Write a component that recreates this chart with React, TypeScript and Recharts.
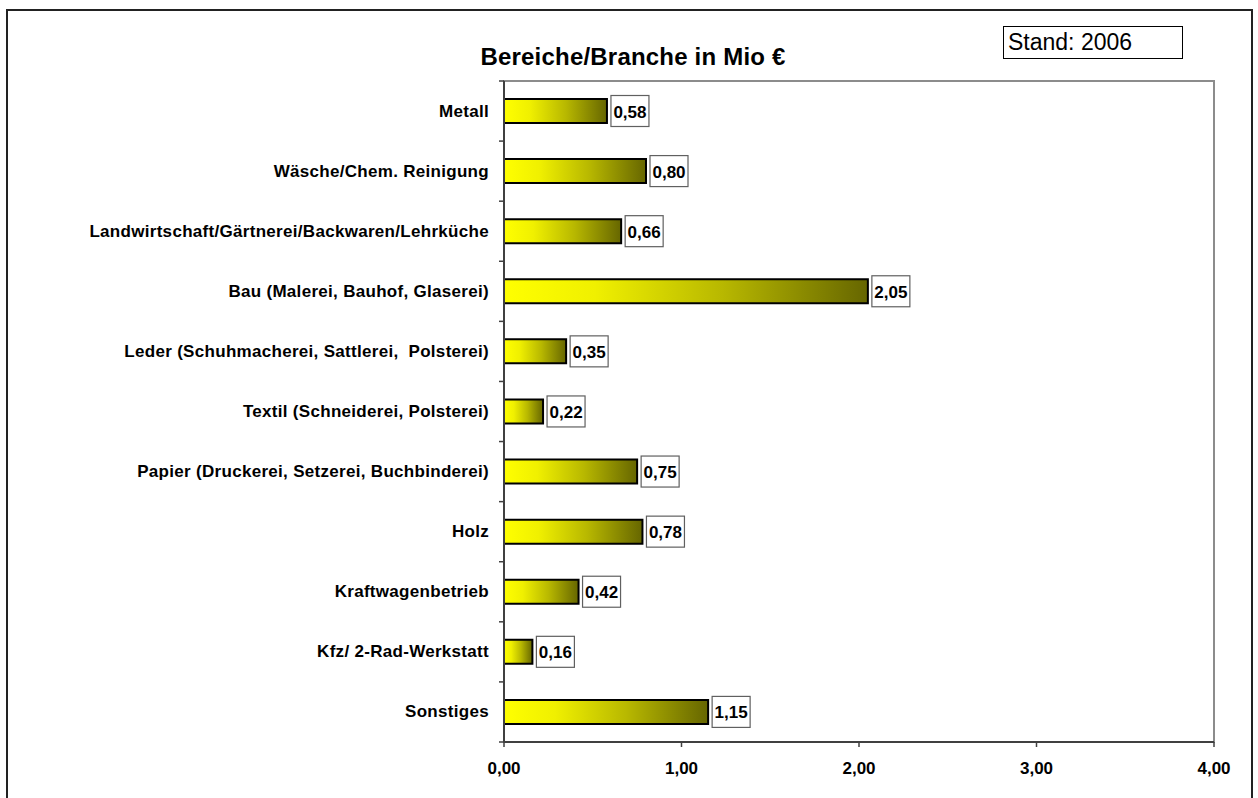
import React from "react";
import { BarChart, Bar, XAxis, YAxis, LabelList, ReferenceArea } from "recharts";

// Werte (Mio €)
const categories = [
  "Metall",
  "Wäsche/Chem. Reinigung",
  "Landwirtschaft/Gärtnerei/Backwaren/Lehrküche",
  "Bau (Malerei, Bauhof, Glaserei)",
  "Leder (Schuhmacherei, Sattlerei,  Polsterei)",
  "Textil (Schneiderei, Polsterei)",
  "Papier (Druckerei, Setzerei, Buchbinderei)",
  "Holz",
  "Kraftwagenbetrieb",
  "Kfz/ 2-Rad-Werkstatt",
  "Sonstiges",
];
const values = [0.58, 0.8, 0.66, 2.05, 0.35, 0.22, 0.75, 0.78, 0.42, 0.16, 1.15];
const xTicks = [0, 1, 2, 3, 4];
const title = "Bereiche/Branche in Mio €";
const stand = "Stand: 2006";

const data = categories.map((name, i) => ({ name, value: values[i] }));

const FONT = '"Liberation Sans", Arial, sans-serif';
const W = 1258;
const H = 798;
const MARGIN = { top: 81, right: 44, bottom: 0, left: 0 };
const Y_AXIS_W = 504;
const X_AXIS_H = 56;
const BAND = (H - MARGIN.top - MARGIN.bottom - X_AXIS_H) / categories.length;
const AXIS_COLOR = "#404040";

const fmt = (v: number) => v.toFixed(2).replace(".", ",");

const CategoryTick = (props: any) => {
  const { x, y, payload, index } = props;
  const axisX = x + 15;
  return (
    <g>
      <line x1={axisX - 5} x2={axisX} y1={y - BAND / 2} y2={y - BAND / 2} stroke={AXIS_COLOR} strokeWidth={1.5} />
      {index === categories.length - 1 && (
        <line x1={axisX - 5} x2={axisX} y1={y + BAND / 2} y2={y + BAND / 2} stroke={AXIS_COLOR} strokeWidth={1.5} />
      )}
      <text
        x={x}
        y={y}
        textAnchor="end"
        dominantBaseline="central"
        fontFamily={FONT}
        fontSize={17}
        fontWeight="bold"
        letterSpacing={0.3}
        fill="#000"
        style={{ whiteSpace: "pre" }}
      >
        {payload.value}
      </text>
    </g>
  );
};

const ValueLabel = (props: any) => {
  const { x, y, width, height, value } = props;
  const bx = x + width + 4;
  const cy = y + height / 2;
  return (
    <g>
      <rect x={bx} y={cy - 15.5} width={38} height={31} fill="#fff" stroke="#606060" strokeWidth={1.2} />
      <text
        x={bx + 19}
        y={cy + 1}
        textAnchor="middle"
        dominantBaseline="central"
        fontFamily={FONT}
        fontSize={17}
        fontWeight="bold"
        fill="#000"
      >
        {fmt(Number(value))}
      </text>
    </g>
  );
};

export default function App() {
  return (
    <div style={{ position: "absolute", left: 0, top: 0, width: W, height: H, background: "#fff", fontFamily: FONT, overflow: "hidden" }}>
      <div
        style={{
          position: "absolute",
          left: 0,
          top: 45,
          width: 1266,
          textAlign: "center",
          fontSize: 24,
          lineHeight: "24px",
          fontWeight: "bold",
          letterSpacing: 0.2,
        }}
      >
        {title}
      </div>
      <div
        style={{
          position: "absolute",
          left: 1003,
          top: 26,
          width: 180,
          height: 33,
          boxSizing: "border-box",
          border: "1px solid #000",
          fontSize: 23,
          lineHeight: "31px",
          paddingLeft: 4,
        }}
      >
        {stand}
      </div>
      <div style={{ position: "absolute", left: 0, top: 0 }}>
        <BarChart width={W} height={H} data={data} layout="vertical" margin={MARGIN}>
          <defs>
            <linearGradient id="barGrad" x1="0" y1="0" x2="1" y2="0">
              <stop offset="0%" stopColor="#ffff00" />
              <stop offset="25%" stopColor="#f0f000" />
              <stop offset="60%" stopColor="#b8b800" />
              <stop offset="100%" stopColor="#666600" />
            </linearGradient>
          </defs>
          <ReferenceArea x1={0} x2={4} fill="none" stroke="#8c8c8c" strokeWidth={2} />
          <XAxis
            type="number"
            domain={[0, 4]}
            ticks={xTicks}
            interval={0}
            tickFormatter={fmt}
            height={X_AXIS_H}
            axisLine={{ stroke: AXIS_COLOR, strokeWidth: 2 }}
            tickLine={{ stroke: AXIS_COLOR, strokeWidth: 1.5 }}
            tickSize={5}
            tickMargin={15}
            tick={{ fill: "#000", fontSize: 17, fontWeight: "bold", fontFamily: FONT }}
          />
          <YAxis
            type="category"
            dataKey="name"
            width={Y_AXIS_W}
            interval={0}
            axisLine={{ stroke: AXIS_COLOR, strokeWidth: 2 }}
            tickLine={false}
            tickSize={0}
            tickMargin={15}
            tick={<CategoryTick />}
          />
          <Bar dataKey="value" barSize={24} fill="url(#barGrad)" stroke="#000" strokeWidth={2} isAnimationActive={false}>
            <LabelList dataKey="value" content={<ValueLabel />} />
          </Bar>
        </BarChart>
      </div>
      <div
        style={{
          position: "absolute",
          left: 6,
          top: 9,
          width: 1247,
          height: 820,
          boxSizing: "border-box",
          border: "2px solid #222",
        }}
      />
    </div>
  );
}
